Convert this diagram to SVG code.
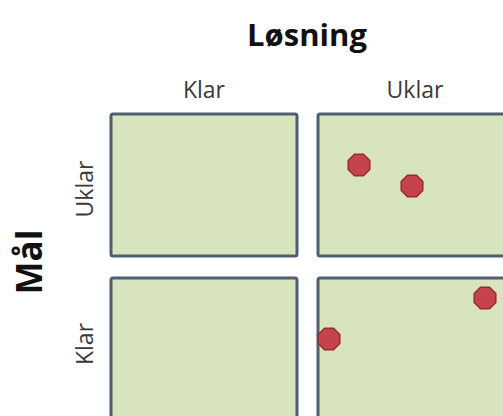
<svg xmlns="http://www.w3.org/2000/svg" width="503" height="416" viewBox="0 0 503 416">
<style>
.box{fill:#d7e4bd;stroke:#4f5f73;stroke-width:3}
.dot{fill:#c4434d;stroke:#9a2a30;stroke-width:1.5}
.t{font-family:"Open Sans","Liberation Sans",sans-serif;fill:#1a1a1a}
.h{font-weight:bold;fill:#111}
.l{fill:#3a3a3a;font-size:23px}
</style>
<rect width="503" height="416" fill="#ffffff"/>
<g id="title-losning"><text class="t h" x="307" y="46" font-size="31" text-anchor="middle">Løsning</text></g>
<g id="col-klar"><text class="t l" x="204" y="98" text-anchor="middle">Klar</text></g>
<g id="col-uklar"><text class="t l" x="415" y="98" text-anchor="middle">Uklar</text></g>
<g id="title-mal"><text class="t h" font-size="35" text-anchor="middle" transform="translate(42,262) rotate(-90)">Mål</text></g>
<g id="row-uklar"><text class="t l" text-anchor="middle" transform="translate(93,189) rotate(-90)">Uklar</text></g>
<g id="row-klar"><text class="t l" text-anchor="middle" transform="translate(93,344) rotate(-90)">Klar</text></g>
<g id="q-tl"><rect class="box" x="111" y="114" width="186" height="142" rx="2"/></g>
<g id="q-tr"><rect class="box" x="318" y="114" width="200" height="142" rx="2"/></g>
<g id="q-bl"><rect class="box" x="111" y="278" width="186" height="160" rx="2"/></g>
<g id="q-br"><rect class="box" x="318" y="278" width="200" height="160" rx="2"/></g>
<defs>
<polygon id="oct" points="4.5,-10.8 10.8,-4.5 10.8,4.5 4.5,10.8 -4.5,10.8 -10.8,4.5 -10.8,-4.5 -4.5,-10.8"/>
</defs>
<g id="dots">
<use href="#oct" class="dot" x="359" y="165"/>
<use href="#oct" class="dot" x="412" y="186"/>
<use href="#oct" class="dot" x="485" y="298"/>
<use href="#oct" class="dot" x="329" y="339"/>
</g>
</svg>
